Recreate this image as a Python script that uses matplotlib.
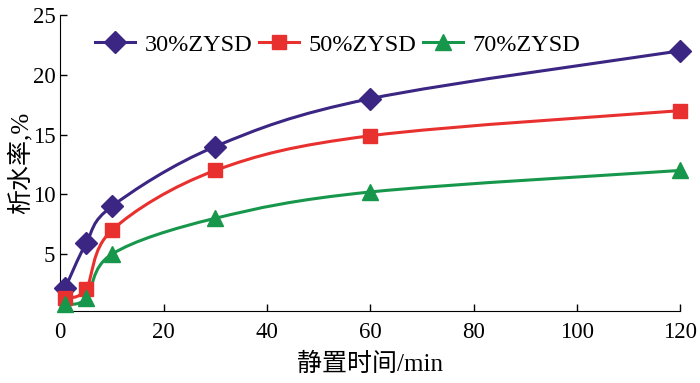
import matplotlib.pyplot as plt
from matplotlib.path import Path
from matplotlib.patches import PathPatch
from matplotlib.lines import Line2D
import numpy as np

plt.rcParams['font.family'] = ['Liberation Serif', 'Noto Sans CJK SC']

t = [1, 5, 10, 30, 60, 120]
s30 = [2.2, 5.9, 9.0, 14.0, 18.0, 22.0]
s50 = [1.3, 2.1, 7.0, 12.0, 14.9, 17.0]
s70 = [0.8, 1.3, 5.0, 8.0, 10.2, 12.0]
labels = ['30%ZYSD', '50%ZYSD', '70%ZYSD']
colors = ['#3b2683', '#e8302e', '#17974b']
markers = ['D', 's', '^']
msizes = [11, 10, 11]


def smooth_path(x, y):
    # bezier segments like excel "smoothed line"
    x = np.asarray(x, float)
    y = np.asarray(y, float)
    n = len(x)
    verts = [(x[0], y[0])]
    codes = [Path.MOVETO]
    for i in range(n - 1):
        p0 = np.array([x[max(i - 1, 0)], y[max(i - 1, 0)]])
        p1 = np.array([x[i], y[i]])
        p2 = np.array([x[i + 1], y[i + 1]])
        p3 = np.array([x[min(i + 2, n - 1)], y[min(i + 2, n - 1)]])
        c1 = p1 + (p2 - p0) / 6.0
        c2 = p2 - (p3 - p1) / 6.0
        verts += [tuple(c1), tuple(c2), tuple(p2)]
        codes += [Path.CURVE4] * 3
    return Path(verts, codes)


fig = plt.figure(figsize=(7, 3.83), dpi=100)
ax = fig.add_axes([0.086, 0.188, 0.886, 0.773])

handles = []
for ys, lab, c, m, ms in zip([s30, s50, s70], labels, colors, markers, msizes):
    ax.add_patch(PathPatch(smooth_path(t, ys), fill=False, edgecolor=c, lw=2.2, zorder=2))
    ax.plot(t, ys, ls='none', marker=m, ms=ms, color=c, zorder=3, clip_on=False)
    handles.append(Line2D([], [], color=c, lw=2.2, marker=m, ms=ms, label=lab))

ax.set_xlim(0, 120)
ax.set_ylim(0.25, 25)
ax.set_xticks([0, 20, 40, 60, 80, 100, 120])
ax.set_yticks([5, 10, 15, 20, 25])
ax.spines['top'].set_visible(False)
ax.spines['right'].set_visible(False)
ax.tick_params(direction='in', length=5, labelsize=16.5, width=1)
ax.tick_params(axis='x', pad=8)

ax.set_xlabel('静置时间/min', fontsize=18, labelpad=7)
ax.set_ylabel('析水率,%', fontsize=18, labelpad=0)

ax.legend(handles=handles, loc='center left', bbox_to_anchor=(0.041, 0.90), ncol=3,
          frameon=False, fontsize=17.5, handlelength=1.65, columnspacing=0.25,
          handletextpad=0.4, borderaxespad=0)

fig.savefig('out.png', dpi=100)
